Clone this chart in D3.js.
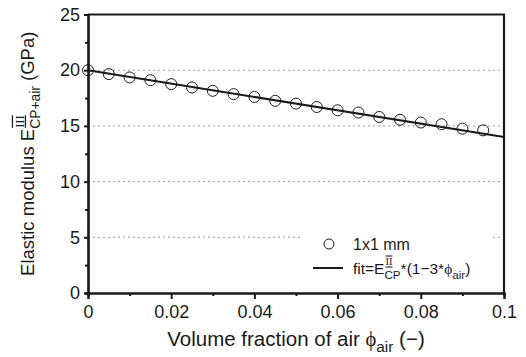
<!DOCTYPE html>
<html lang="en">
<head>
  <meta charset="UTF-8" />
  <title>Elastic modulus vs air fraction</title>
  <style>
    body { margin: 0; background: #fff; }
    svg { display: block; font-family: "Liberation Sans", Arial, sans-serif; }
    text { white-space: pre; }
  </style>
  <script src="https://d3js.org/d3.v7.min.js"></script>
</head>
<body>
  <div id="chart"></div>
  <script>
    // data
    const phiAir = [0, 0.005, 0.01, 0.015, 0.02, 0.025, 0.03, 0.035, 0.04, 0.045,
                    0.05, 0.055, 0.06, 0.065, 0.07, 0.075, 0.08, 0.085, 0.09, 0.095];
    const modulus = [20.0, 19.65, 19.35, 19.1, 18.75, 18.45, 18.15, 17.85, 17.6, 17.25,
                     17.0, 16.7, 16.4, 16.2, 15.8, 15.55, 15.3, 15.15, 14.75, 14.6];
    // fit line endpoints E = 20*(1-3*phi)
    const fitPhi = [0, 0.1];
    const fitE = [20, 14];

    const xTicks = [0, 0.02, 0.04, 0.06, 0.08, 0.1];
    const xTickLabels = ["0", "0.02", "0.04", "0.06", "0.08", "0.1"];
    const xMinor = [0.01, 0.03, 0.05, 0.07, 0.09];
    const yTicks = [0, 5, 10, 15, 20, 25];
    const yMinor = [2.5, 7.5, 12.5, 17.5, 22.5];
    const gridVals = [5, 10, 15, 20];

    const width = 526, height = 357;
    const margin = { top: 14.5, right: 22, bottom: 64, left: 88 };
    const ink = "#1a1a1a";
    const serif = "Liberation Serif, Times New Roman, serif";

    const svg = d3.select("#chart").append("svg")
      .attr("width", width).attr("height", height);

    const x = d3.scaleLinear().domain([0, 0.1]).range([margin.left, width - margin.right]);
    const y = d3.scaleLinear().domain([0, 25]).range([height - margin.bottom, margin.top]);

    // dotted grid
    svg.append("g").selectAll("line").data(gridVals).join("line")
      .attr("x1", x(0)).attr("x2", x(0.1))
      .attr("y1", d => y(d)).attr("y2", d => y(d))
      .attr("stroke", "#9a9a9a").attr("stroke-width", 1)
      .attr("stroke-dasharray", "2,3");

    // legend background hides grid
    svg.append("rect").attr("x", 300).attr("y", 228)
      .attr("width", 193).attr("height", 55).attr("fill", "#fff");

    // fit line
    svg.append("line")
      .attr("x1", x(fitPhi[0])).attr("y1", y(fitE[0]))
      .attr("x2", x(fitPhi[1])).attr("y2", y(fitE[1]))
      .attr("stroke", ink).attr("stroke-width", 2);

    // points
    svg.append("g").selectAll("circle").data(phiAir).join("circle")
      .attr("cx", d => x(d)).attr("cy", (d, i) => y(modulus[i]))
      .attr("r", 5.5).attr("fill", "none")
      .attr("stroke", ink).attr("stroke-width", 1);

    // axes
    const xAxis = d3.axisBottom(x).tickValues(xTicks)
      .tickFormat((d, i) => xTickLabels[i]).tickSize(6).tickPadding(6);
    svg.append("g").attr("transform", `translate(0,${y(0)})`).call(xAxis);
    svg.append("g").attr("transform", `translate(0,${y(0)})`)
      .call(d3.axisBottom(x).tickValues(xMinor).tickFormat("").tickSize(3));

    const yAxis = d3.axisLeft(y).tickValues(yTicks).tickSize(4).tickPadding(4);
    svg.append("g").attr("transform", `translate(${x(0)},0)`).call(yAxis);
    svg.append("g").attr("transform", `translate(${x(0)},0)`)
      .call(d3.axisLeft(y).tickValues(yMinor).tickFormat("").tickSize(3));

    svg.selectAll(".domain").attr("stroke", ink).attr("stroke-width", 2.2);
    svg.selectAll(".tick line").attr("stroke", ink).attr("stroke-width", 2);
    svg.selectAll(".tick text").attr("font-size", 18).attr("fill", ink)
      .attr("font-family", "Liberation Sans, Arial, sans-serif");

    // top and right frame
    svg.append("path")
      .attr("d", `M${x(0)},${y(25)}H${x(0.1)}V${y(0)}`)
      .attr("fill", "none").attr("stroke", ink).attr("stroke-width", 2.2);

    // rich text helper: pieces are {t, font} or {sup, sub}
    function rich(g, pieces, size) {
      let cx = 0;
      pieces.forEach(p => {
        if (p.t !== undefined) {
          const t = g.append("text").attr("x", cx).attr("y", 0)
            .attr("font-size", size).attr("fill", ink).text(p.t);
          if (p.font) t.attr("font-family", p.font);
          cx += t.node().getComputedTextLength();
        } else {
          let w = 0;
          if (p.sup) {
            const s = g.append("text").attr("x", cx + 1).attr("y", -size * 0.55)
              .attr("font-size", size * 0.68).attr("fill", ink)
              .attr("font-family", serif)
              .attr("text-decoration", "overline underline")
              .text(p.sup);
            w = Math.max(w, s.node().getComputedTextLength() + 1);
          }
          if (p.sub) {
            const s = g.append("text").attr("x", cx).attr("y", size * 0.3)
              .attr("font-size", size * 0.75).attr("fill", ink).text(p.sub);
            w = Math.max(w, s.node().getComputedTextLength());
          }
          cx += w;
        }
      });
      return cx;
    }

    // x title
    const xt = svg.append("g");
    const xw = rich(xt, [{ t: "Volume fraction of air " }, { t: "\u03d5", font: serif }, { sub: "air" }, { t: " (\u2212)" }], 20.5);
    xt.attr("transform", `translate(${(x(0) + x(0.1)) / 2 - xw / 2},${height - 11})`);

    // y title
    const yt = svg.append("g");
    const yw = rich(yt, [{ t: "Elastic modulus E" }, { sup: "III", sub: "CP+air" }, { t: " (GPa)" }], 18.5);
    yt.attr("transform", `translate(34,${(y(0) + y(25)) / 2 + yw / 2}) rotate(-90)`);

    // legend
    svg.append("circle").attr("cx", 329).attr("cy", 244).attr("r", 5)
      .attr("fill", "none").attr("stroke", ink).attr("stroke-width", 1);
    svg.append("text").attr("x", 353).attr("y", 250).attr("font-size", 16)
      .attr("fill", ink).text("1x1 mm");
    svg.append("line").attr("x1", 313).attr("x2", 343).attr("y1", 268).attr("y2", 268)
      .attr("stroke", ink).attr("stroke-width", 2);
    const lg = svg.append("g").attr("transform", "translate(353,274)");
    rich(lg, [{ t: "fit=E" }, { sup: "II", sub: "CP" }, { t: "*(1\u22123*" }, { t: "\u03d5", font: serif }, { sub: "air" }, { t: ")" }], 15.5);
  </script>
</body>
</html>
